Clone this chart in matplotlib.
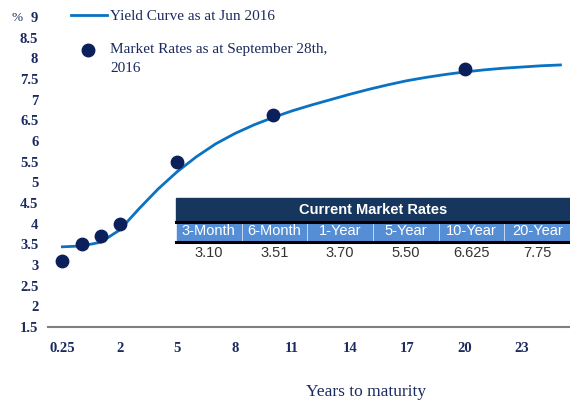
import matplotlib
matplotlib.use('Agg')
import matplotlib.pyplot as plt
from matplotlib.patches import Rectangle
from matplotlib.lines import Line2D
import numpy as np

# maturities as categories (evenly spaced on the chart)
maturities = ['0.25', '0.5', '1'] + [str(y) for y in range(2, 26)]
curve = [3.44, 3.46, 3.55, 3.85, 4.36, 4.84, 5.26, 5.62, 5.93, 6.18, 6.39,
         6.57, 6.73, 6.87, 7.00, 7.13, 7.25, 7.36, 7.46, 7.54, 7.61, 7.67,
         7.72, 7.76, 7.79, 7.82, 7.84]
mkt_maturities = ['0.25', '0.5', '1', '2', '5', '10', '20']
mkt_rates = [3.10, 3.51, 3.70, 4.00, 5.50, 6.625, 7.75]

tbl_title = 'Current Market Rates'
tbl_cols = ['3-Month', '6-Month', '1-Year', '5-Year', '10-Year', '20-Year']
tbl_vals = ['3.10', '3.51', '3.70', '5.50', '6.625', '7.75']

navy = '#1b2a5e'
blue = '#0a72c2'
dot = '#0b1f5a'
serif = 'Liberation Serif'
sans = 'Liberation Sans'

W, H = 570, 404
fx = lambda p: p/W
fy = lambda p: 1-p/H

fig = plt.figure(figsize=(5.7, 4.04), dpi=100)
ax = fig.add_axes([fx(48), fy(327), 1-fx(48), 310/H])

xi = np.arange(len(maturities))
ax.plot(xi, curve, color=blue, lw=2)
mx = [maturities.index(m) for m in mkt_maturities]
ax.scatter(mx, mkt_rates, s=80, color=dot, zorder=3)

ax.set_xlim(-0.75, 26.5)
ax.set_ylim(1.5, 9)
yt = np.arange(1.5, 9.01, 0.5)
ax.set_yticks(yt)
ax.set_yticklabels(['%g' % v for v in yt])
ax.set_xticks(xi[::3])
ax.set_xticklabels(maturities[::3])
for s in ['top', 'right', 'left']:
    ax.spines[s].set_visible(False)
ax.spines['bottom'].set_color('#7f7f7f')
ax.spines['bottom'].set_linewidth(1.5)
ax.tick_params(length=0, labelsize=10.5, colors=navy)
ax.tick_params(axis='y', pad=7)
ax.tick_params(axis='x', pad=11)
for lab in ax.get_xticklabels() + ax.get_yticklabels():
    lab.set_fontfamily(serif)
    lab.set_fontweight('bold')
fig.text(fx(366), fy(392), 'Years to maturity', fontsize=12.5, color=navy,
         fontfamily=serif, ha='center', va='center')
fig.text(fx(12), fy(18), '%', fontsize=9.5, color=navy, fontfamily=serif,
         va='center')

# legend
fig.lines.append(Line2D([fx(71), fx(107)], [fy(15), fy(15)], color=blue, lw=2,
                        transform=fig.transFigure))
fig.text(fx(110), fy(16), 'Yield Curve as at Jun 2016', fontsize=11,
         color=navy, fontfamily=serif, va='center')
fig.lines.append(Line2D([fx(88)], [fy(50)], marker='o', ms=9, color=dot, lw=0,
                        transform=fig.transFigure))
fig.text(fx(110), fy(43), 'Market Rates as at September 28th,\n2016',
         fontsize=11, color=navy, fontfamily=serif, va='top', linespacing=1.55)

# table
tx0, tx1 = fx(176), fx(570)
fig.patches.append(Rectangle((tx0, fy(221)), tx1-tx0, 23/H, color='#17365d',
                             transform=fig.transFigure, figure=fig))
fig.text((tx0+tx1)/2, fy(209.5), tbl_title, color='white', fontsize=10.5,
         fontweight='bold', fontfamily=sans, ha='center', va='center')
fig.lines.append(Line2D([tx0, tx1], [fy(221.5), fy(221.5)], color='black',
                        lw=2.2, transform=fig.transFigure))
cw = (tx1-tx0)/len(tbl_cols)
for i, (c, v) in enumerate(zip(tbl_cols, tbl_vals)):
    x0 = tx0 + i*cw
    fig.patches.append(Rectangle((x0+fx(1), fy(241)), cw-fx(2), 19/H,
                                 color='#558ed5', transform=fig.transFigure, figure=fig))
    fig.text(x0+cw/2, fy(231.5), c, color='white', fontsize=10.5,
             fontfamily=sans, ha='center', va='center')
    fig.text(x0+cw/2, fy(253), v, color='#333333', fontsize=10.5,
             fontfamily=sans, ha='center', va='center')
fig.lines.append(Line2D([tx0, tx1], [fy(241.5), fy(241.5)], color='black',
                        lw=2.2, transform=fig.transFigure))

fig.savefig('out.png', dpi=100)
